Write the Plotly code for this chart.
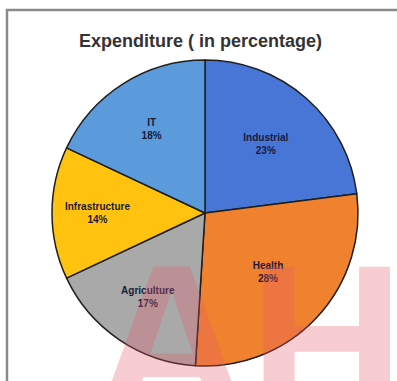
import plotly.graph_objects as go

labels = ["Industrial", "Health", "Agriculture", "Infrastructure", "IT"]
values = [23, 28, 17, 14, 18]
colors = ["#4876D6", "#F0812F", "#A9A9A9", "#FFC20E", "#5B9BDB"]

W, H = 397, 381
cx, cy, r = 205, 213, 153

fig = go.Figure(go.Pie(
    labels=labels,
    values=values,
    sort=False,
    direction="clockwise",
    rotation=0,
    marker=dict(colors=colors, line=dict(color="#1f1f1f", width=1.5)),
    texttemplate="<b>%{label}</b><br><b>%{value}%</b>",
    textposition="inside",
    insidetextorientation="horizontal",
    textfont=dict(family="Liberation Sans, Arial", size=10, color="#1a1a3a"),
    hoverinfo="label+percent",
    showlegend=False,
    domain=dict(x=[(cx - r) / W, (cx + r) / W], y=[1 - (cy + r) / H, 1 - (cy - r) / H]),
))

fig.update_layout(
    width=W, height=H,
    margin=dict(l=0, r=0, t=0, b=0),
    paper_bgcolor="white",
    plot_bgcolor="white",
    shapes=[dict(type="rect", xref="paper", yref="paper",
                 x0=7 / W, x1=1.05, y0=-0.05, y1=1 - 10 / H,
                 line=dict(color="#8a8a8a", width=2.5), fillcolor="rgba(0,0,0,0)")],
    annotations=[
        dict(text="<b>Expenditure ( in percentage)</b>", x=200 / W, y=1 - 41 / H,
             xref="paper", yref="paper", showarrow=False, xanchor="center", yanchor="middle",
             font=dict(family="Liberation Sans, Arial", size=18, color="#333333")),
        dict(text="<b>AH</b>", x=250 / W, y=1 - 218 / H, xref="paper", yref="paper",
             showarrow=False, xanchor="center", yanchor="top",
             font=dict(family="Liberation Sans, Arial", size=215, color="rgba(230,90,105,0.30)")),
    ],
)

fig.write_html("out.html", config={"displayModeBar": False},
               post_script="document.body.style.margin='0';document.body.style.overflow='hidden';")
